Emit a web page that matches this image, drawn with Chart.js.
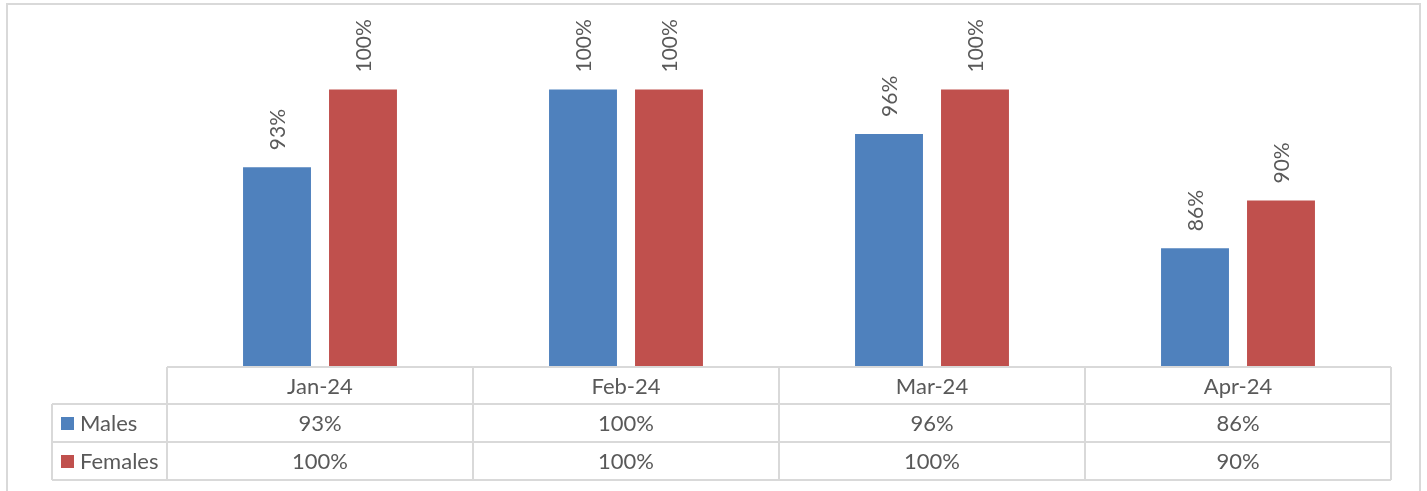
<!DOCTYPE html>
<html>
<head>
<meta charset="utf-8">
<script src="https://cdn.jsdelivr.net/npm/chart.js@4/dist/chart.umd.min.js"></script>
<style>
  html, body { margin: 0; padding: 0; background: #fff; }
  canvas { display: block; }
</style>
</head>
<body>
<canvas id="c" width="1427" height="491"></canvas>
<script>
const categories = ["Jan-24", "Feb-24", "Mar-24", "Apr-24"];
const seriesNames = ["Males", "Females"];
const males = [93, 100, 96, 85.7];
const females = [100, 100, 100, 90];
const seriesColors = ["#4F81BD", "#C0504D"];

const FONT = "Lato, 'Open Sans', sans-serif";
const TEXT = "#595959";
const GRID = "#D9D9D9";

const fmt = v => Math.round(v) + "%";

const labelPlugin = {
  id: "rotLabels",
  afterDatasetsDraw(chart) {
    const ctx = chart.ctx;
    ctx.save();
    ctx.font = "21px " + FONT;
    ctx.fillStyle = TEXT;
    chart.data.datasets.forEach((ds, di) => {
      const meta = chart.getDatasetMeta(di);
      meta.data.forEach((bar, i) => {
        ctx.save();
        ctx.translate(bar.x, bar.y - 17);
        ctx.rotate(-Math.PI / 2);
        ctx.textAlign = "left";
        ctx.textBaseline = "middle";
        ctx.fillText(fmt(ds.data[i]), 0, 1);
        ctx.restore();
      });
    });
    ctx.restore();
  }
};

const tablePlugin = {
  id: "dataTable",
  afterDraw(chart) {
    const ctx = chart.ctx;
    const area = chart.chartArea;
    const n = categories.length;
    const colW = (area.right - area.left) / n;
    const top = area.bottom;
    const rowH = [37, 38, 38];
    const y0 = top, y1 = y0 + rowH[0], y2 = y1 + rowH[1], y3 = y2 + rowH[2];
    const legLeft = 52;
    ctx.save();
    // outer chart border
    ctx.strokeStyle = GRID;
    ctx.lineWidth = 2;
    ctx.strokeRect(7, 4, 1413, 520);
    // table grid
    ctx.beginPath();
    ctx.moveTo(area.left, y0); ctx.lineTo(area.right, y0);
    ctx.moveTo(legLeft, y1); ctx.lineTo(area.right, y1);
    ctx.moveTo(legLeft, y2); ctx.lineTo(area.right, y2);
    ctx.moveTo(legLeft, y3); ctx.lineTo(area.right, y3);
    ctx.moveTo(legLeft, y1); ctx.lineTo(legLeft, y3);
    for (let i = 0; i <= n; i++) {
      const x = area.left + i * colW;
      ctx.moveTo(x, y0); ctx.lineTo(x, y3);
    }
    ctx.stroke();
    // texts
    ctx.font = "22px " + FONT;
    ctx.fillStyle = TEXT;
    ctx.textAlign = "center";
    ctx.textBaseline = "middle";
    const rowsData = [males, females];
    const ys = [(y0 + y1) / 2, (y1 + y2) / 2, (y2 + y3) / 2];
    categories.forEach((c, i) => {
      const cx = area.left + (i + 0.5) * colW;
      ctx.fillText(c, cx, ys[0] + 1);
      ctx.fillText(fmt(rowsData[0][i]), cx, ys[1] + 1);
      ctx.fillText(fmt(rowsData[1][i]), cx, ys[2] + 1);
    });
    // legend keys
    ctx.textAlign = "left";
    seriesNames.forEach((s, k) => {
      const yc = ys[k + 1];
      ctx.fillStyle = seriesColors[k];
      ctx.fillRect(61, yc - 6, 13, 13);
      ctx.fillStyle = TEXT;
      ctx.fillText(s, 80, yc + 1);
    });
    ctx.restore();
  }
};

new Chart(document.getElementById("c"), {
  type: "bar",
  data: {
    labels: categories,
    datasets: [
      { label: seriesNames[0], data: males, backgroundColor: seriesColors[0] },
      { label: seriesNames[1], data: females, backgroundColor: seriesColors[1] }
    ]
  },
  options: {
    responsive: false,
    animation: false,
    layout: { padding: { left: 167, right: 36, top: 34, bottom: 124 } },
    datasets: { bar: { categoryPercentage: 0.562, barPercentage: 0.79 } },
    plugins: { legend: { display: false }, tooltip: { enabled: false } },
    scales: {
      x: { display: false },
      y: { display: false, min: 75, max: 105 }
    }
  },
  plugins: [labelPlugin, tablePlugin]
});
</script>
</body>
</html>
